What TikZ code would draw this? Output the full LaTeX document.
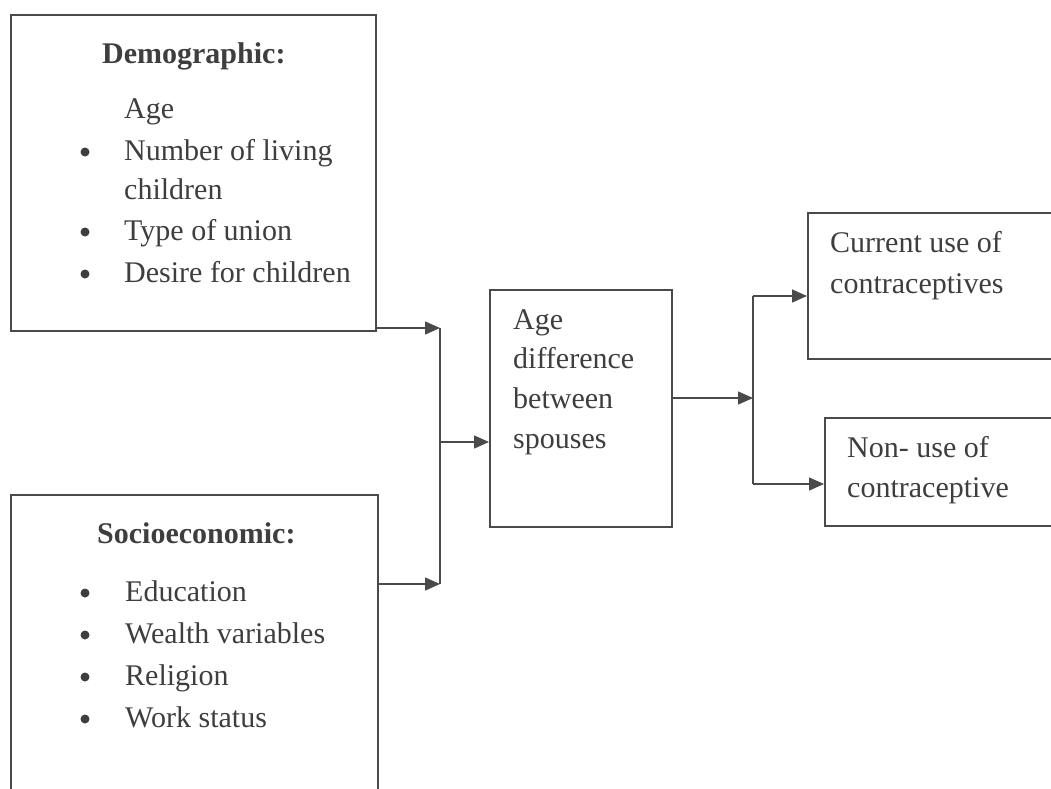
\documentclass[tikz,border=0pt]{standalone}
\usepackage{fontspec}
\setmainfont{Liberation Serif}
\usetikzlibrary{arrows.meta}
\definecolor{ink}{HTML}{4A4A4A}
\definecolor{txt}{HTML}{3E3E3E}
\begin{document}
\begin{tikzpicture}[x=1pt,y=-1pt,
  box/.style={draw=ink,line width=1.5pt,anchor=north west,inner sep=0pt},
  lbl/.style={anchor=base west,inner sep=0pt,text=txt,font=\fontsize{30}{40}\selectfont},
  ttl/.style={anchor=base west,inner sep=0pt,text=txt,font=\fontsize{30}{40}\selectfont\bfseries},
  dot/.style={circle,fill=txt,draw=none,inner sep=0pt,minimum size=9pt},
  conn/.style={draw=ink,line width=1.5pt},
  arr/.style={conn,-{Triangle[length=15pt,width=13pt]}}]
\useasboundingbox (0,0) rectangle (1051,788);
% boxes
\node[box,minimum width=365pt,minimum height=316pt] (demo) at (10,14) {};
\node[box,minimum width=367pt,minimum height=330pt] (socio) at (10,494) {};
\node[box,minimum width=182pt,minimum height=237pt] (mid) at (489,289) {};
\node[box,minimum width=300pt,minimum height=146pt] (cur) at (807,212) {};
\node[box,minimum width=300pt,minimum height=108pt] (non) at (824,417) {};
% demographic text
\node[ttl] (dtitle) at (102,63) {Demographic:};
\node[lbl] (d1) at (124,118) {Age};
\node[dot] (b1) at (85,152) {};
\node[lbl] (d2) at (124,160) {Number of living};
\node[lbl] (d3) at (124,199) {children};
\node[dot] (b2) at (85,232) {};
\node[lbl] (d4) at (124,240) {Type of union};
\node[dot] (b3) at (85,274) {};
\node[lbl] (d5) at (124,282) {Desire for children};
% socioeconomic text
\node[ttl] (stitle) at (97,543) {Socioeconomic:};
\node[dot] (b4) at (85,593) {};
\node[lbl] (s1) at (125,601) {Education};
\node[dot] (b5) at (85,635) {};
\node[lbl] (s2) at (125,643) {Wealth variables};
\node[dot] (b6) at (85,677) {};
\node[lbl] (s3) at (125,685) {Religion};
\node[dot] (b7) at (85,719) {};
\node[lbl] (s4) at (125,727) {Work status};
% middle text
\node[lbl] (m1) at (513,329) {Age};
\node[lbl] (m2) at (513,368) {difference};
\node[lbl] (m3) at (513,408) {between};
\node[lbl] (m4) at (513,448) {spouses};
% outcome text
\node[lbl] (c1) at (830,252) {Current use of};
\node[lbl] (c2) at (830,293) {contraceptives};
\node[lbl] (n1) at (847,457) {Non- use of};
\node[lbl] (n2) at (847,497) {contraceptive};
% connectors
\coordinate (jd) at (440,328);
\coordinate (js) at (440,584);
\coordinate (jm) at (440,442);
\coordinate (ko) at (753,398);
\coordinate (kc) at (753,296);
\coordinate (kn) at (753,484);
\draw[arr] (demo.east |- jd) -- (jd);
\draw[arr] (socio.east |- js) -- (js);
\draw[conn] (jd) -- (js);
\draw[arr] (jm) -- (mid.west |- jm);
\draw[arr] (mid.east |- ko) -- (ko);
\draw[conn] (kc) -- (kn);
\draw[arr] (kc) -- (cur.west |- kc);
\draw[arr] (kn) -- (non.west |- kn);
\end{tikzpicture}
\end{document}
